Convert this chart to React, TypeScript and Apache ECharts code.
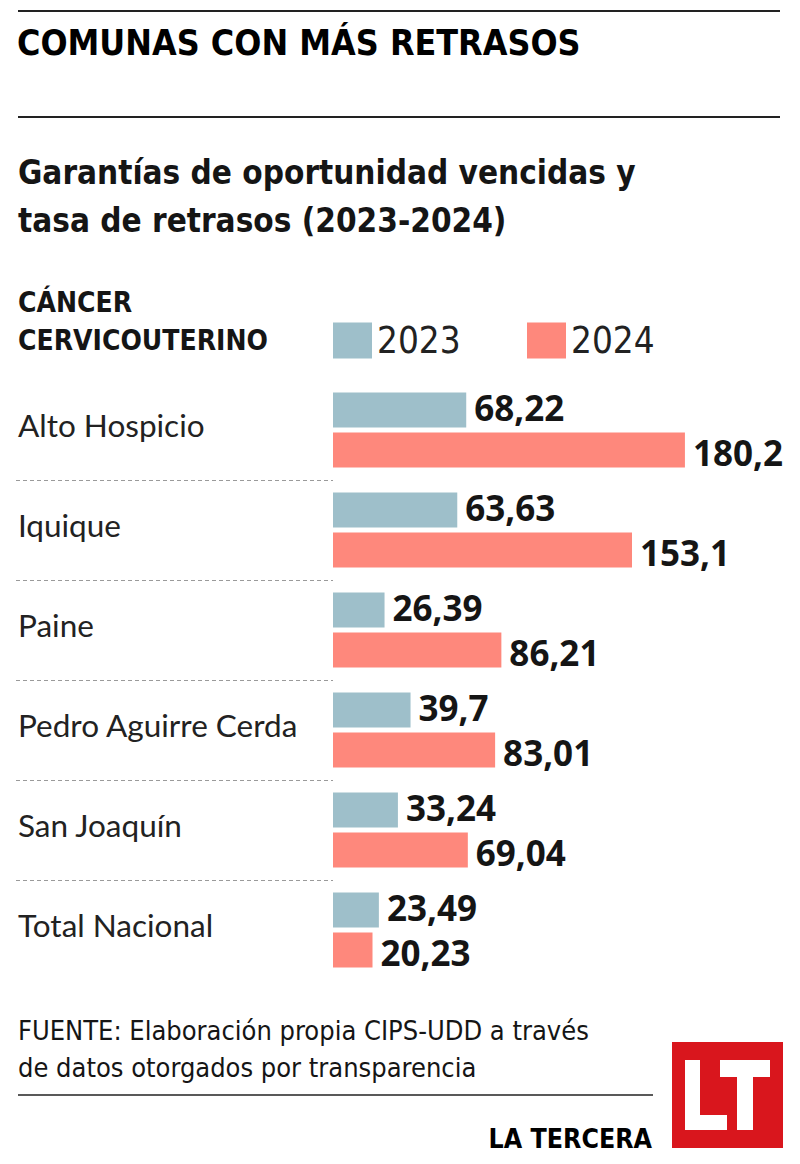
import React, { useEffect, useRef } from "react";
import * as echarts from "echarts";

const categories = ["Alto Hospicio", "Iquique", "Paine", "Pedro Aguirre Cerda", "San Joaquín", "Total Nacional"];
const values2023 = [68.22, 63.63, 26.39, 39.7, 33.24, 23.49];
const values2024 = [180.2, 153.1, 86.21, 83.01, 69.04, 20.23];
const seriesNames = ["2023", "2024"];

const COLOR_2023 = "#9ebfca";
const COLOR_2024 = "#fe887c";
const INK = "#151515";
const NARROW = "'DejaVu Sans Condensed', 'DejaVu Sans', sans-serif";

const fmt = (v: number) => String(v).replace(".", ",");

export default function App() {
  const ref = useRef<HTMLDivElement>(null);
  useEffect(() => {
    document.body.style.margin = "0";
    const chart = echarts.init(ref.current!, null, { renderer: "svg" });
    const baseGraphic: any[] = [
      { id: "l1", type: "line", shape: { x1: 18, y1: 11, x2: 780, y2: 11 }, style: { stroke: "#222", lineWidth: 2 } },
      { id: "l2", type: "line", shape: { x1: 18, y1: 117, x2: 780, y2: 117 }, style: { stroke: "#222", lineWidth: 2 } },
      { id: "t1", type: "text", x: 17, y: 42, style: { text: "COMUNAS CON MÁS RETRASOS", fontFamily: NARROW, fontWeight: 900, fontSize: 35.5, fill: "#000", verticalAlign: "middle" } },
      { id: "t2", type: "text", x: 18, y: 172, style: { text: "Garantías de oportunidad vencidas y", fontFamily: NARROW, fontWeight: 700, fontSize: 33, fill: INK, verticalAlign: "middle" } },
      { id: "t3", type: "text", x: 18, y: 220, style: { text: "tasa de retrasos (2023-2024)", fontFamily: NARROW, fontWeight: 700, fontSize: 33, fill: INK, verticalAlign: "middle" } },
      { id: "t4", type: "text", x: 18, y: 302, style: { text: "CÁNCER", fontFamily: NARROW, fontWeight: 700, fontSize: 28, fill: INK, verticalAlign: "middle" } },
      { id: "t5", type: "text", x: 18, y: 340, style: { text: "CERVICOUTERINO", fontFamily: NARROW, fontWeight: 700, fontSize: 28, fill: INK, verticalAlign: "middle" } },
      { id: "f1", type: "text", x: 18, y: 1030, style: { text: "FUENTE: Elaboración propia CIPS-UDD a través", fontFamily: NARROW, fontSize: 27, fill: INK, verticalAlign: "middle" } },
      { id: "f2", type: "text", x: 18, y: 1067, style: { text: "de datos otorgados por transparencia", fontFamily: NARROW, fontSize: 27, fill: INK, verticalAlign: "middle" } },
      { id: "l3", type: "line", shape: { x1: 18, y1: 1095, x2: 653, y2: 1095 }, style: { stroke: "#222", lineWidth: 1.5 } },
      { id: "lt", type: "text", x: 652, y: 1138, style: { text: "LA TERCERA", fontFamily: NARROW, fontWeight: 700, fontSize: 26.5, fill: "#000", align: "right", verticalAlign: "middle" } },
      { id: "logo", type: "rect", shape: { x: 672, y: 1042, width: 111, height: 106 }, style: { fill: "#d9161d" } },
      { id: "L1", type: "rect", shape: { x: 685, y: 1060, width: 15, height: 70 }, style: { fill: "#fff" } },
      { id: "L2", type: "rect", shape: { x: 685, y: 1115, width: 42, height: 15 }, style: { fill: "#fff" } },
      { id: "T1", type: "rect", shape: { x: 720, y: 1060, width: 50, height: 17 }, style: { fill: "#fff" } },
      { id: "T2", type: "rect", shape: { x: 737, y: 1060, width: 16, height: 70 }, style: { fill: "#fff" } },
    ];
    const makeLabel = (dy: number) => ({
      show: true,
      position: "right",
      distance: 8,
      offset: [0, dy],
      fontFamily: "'Open Sans', sans-serif",
      fontWeight: 700,
      fontSize: 35,
      lineHeight: 36,
      color: INK,
      formatter: (p: any) => fmt(p.value),
    });
    const legendText = { fontFamily: NARROW, fontSize: 36.5, color: "#222" };
    chart.setOption({
      animation: false,
      legend: [
        { data: [seriesNames[0]], left: 333, top: 322, icon: "rect", itemWidth: 39, itemHeight: 36, padding: 0, selectedMode: false, textStyle: legendText },
        { data: [seriesNames[1]], left: 527, top: 322, icon: "rect", itemWidth: 39, itemHeight: 36, padding: 0, selectedMode: false, textStyle: legendText },
      ],
      grid: { left: 333, top: 380, height: 600, width: 390.6, containLabel: false },
      xAxis: { type: "value", min: 0, max: 200, show: false },
      yAxis: {
        type: "category",
        inverse: true,
        data: categories,
        axisLine: { show: false },
        axisTick: { show: false },
        splitLine: { show: false },
        axisLabel: { align: "left", verticalAlign: "bottom", lineHeight: 11, margin: 315, fontFamily: "Lato, sans-serif", fontSize: 31.5, color: "#222" },
      },
      series: [
        { name: seriesNames[0], type: "bar", data: values2023, barWidth: 35, barGap: "14.3%", itemStyle: { color: COLOR_2023 }, label: makeLabel(-2) },
        { name: seriesNames[1], type: "bar", data: values2024, barWidth: 35, barGap: "14.3%", itemStyle: { color: COLOR_2024 }, label: makeLabel(2) },
      ],
      graphic: baseGraphic,
    });
    const seps: any[] = [];
    for (let i = 0; i < categories.length - 1; i++) {
      const a = chart.convertToPixel({ yAxisIndex: 0 }, categories[i]) as number;
      const b = chart.convertToPixel({ yAxisIndex: 0 }, categories[i + 1]) as number;
      const y = Math.round((a + b) / 2) + 0.5;
      seps.push({ id: "sep" + i, type: "line", shape: { x1: 16, y1: y, x2: 333, y2: y }, style: { stroke: "#9a9a9a", lineWidth: 1, lineDash: [4, 3] } });
    }
    chart.setOption({ graphic: [...baseGraphic, ...seps] });
    return () => chart.dispose();
  }, []);
  return <div ref={ref} style={{ width: 800, height: 1164 }} />;
}
